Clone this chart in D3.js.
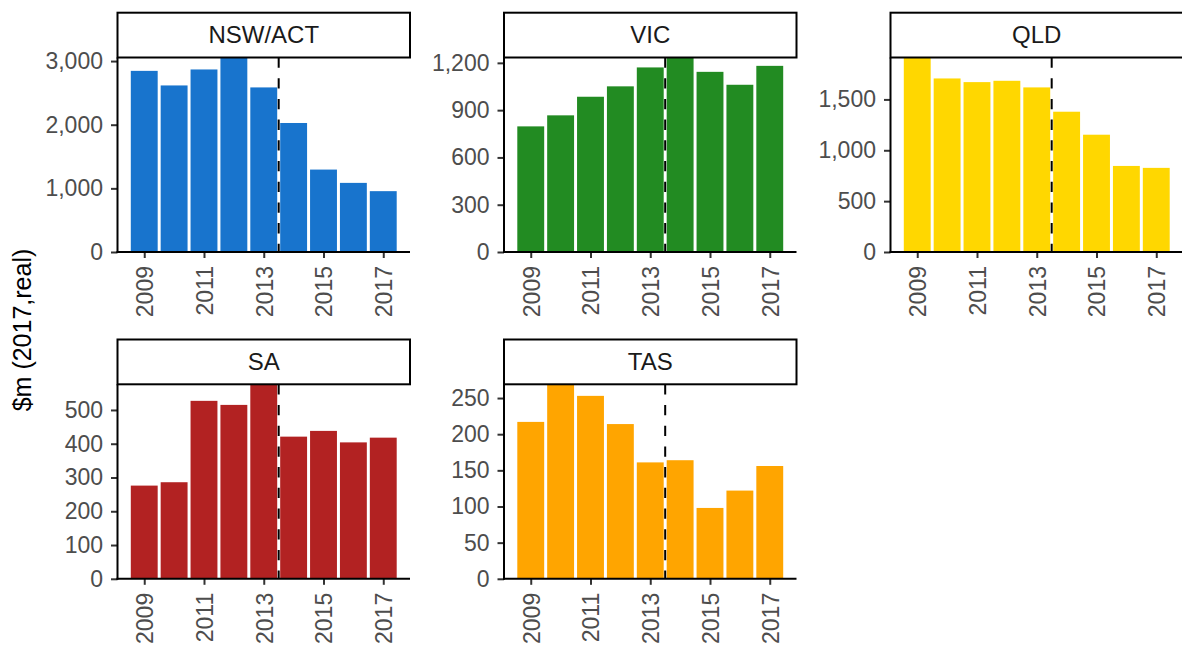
<!DOCTYPE html>
<html>
<head>
<meta charset="utf-8">
<script src="https://cdn.jsdelivr.net/npm/d3@7"></script>
<style>
  html, body { margin: 0; padding: 0; background: #ffffff; }
  svg { display: block; font-family: "Liberation Sans", Arial, sans-serif; }
</style>
</head>
<body>
<svg id="chart" width="1182" height="651"></svg>
<script>
// Annual spend by network region, $m in 2017 real terms
const years = [2009, 2010, 2011, 2012, 2013, 2014, 2015, 2016, 2017];
const regions = ["NSW/ACT", "VIC", "QLD", "SA", "TAS"];

const nswAct = [2846, 2617, 2868, 3056, 2586, 2027, 1295, 1086, 956];
const vic    = [797, 867, 985, 1051, 1171, 1234, 1143, 1061, 1181];
const qld    = [1912, 1706, 1670, 1683, 1618, 1379, 1153, 846, 827];
const sa     = [276, 286, 527, 515, 576, 421, 438, 404, 418];
const tas    = [217, 269, 253, 214, 161, 164, 98, 122, 156];

const regionColours = ["#1874CD", "#228B22", "#FFD700", "#B22222", "#FFA500"];

const yTicksNsw = [0, 1000, 2000, 3000];
const yTicksVic = [0, 300, 600, 900, 1200];
const yTicksQld = [0, 500, 1000, 1500];
const yTicksSa  = [0, 100, 200, 300, 400, 500];
const yTicksTas = [0, 50, 100, 150, 200, 250];

const xTickYears = [2009, 2011, 2013, 2015, 2017];
const breakYear = 2013.5;
const yTitle = "$m (2017,real)";

const seriesByRegion = [nswAct, vic, qld, sa, tas];
const ticksByRegion = [yTicksNsw, yTicksVic, yTicksQld, yTicksSa, yTicksTas];

// Facet grid geometry
const colLefts = [117.5, 504, 890.5];
const rowTops = [12.7, 339.5];
const panelW = 292.5;
const stripH = 44.8;
const plotH = 194.5;
const barWidth = 0.9;

const svg = d3.select("#chart");
const fmt = d3.format(",");

regions.forEach((region, i) => {
  const values = seriesByRegion[i];
  const col = i % 3, row = Math.floor(i / 3);
  const left = colLefts[col];
  const stripTop = rowTops[row];
  const plotTop = stripTop + stripH;

  const g = svg.append("g").attr("transform", `translate(${left},${plotTop})`);

  // x: continuous years with 5% padding around the bar extent
  const lo = years[0] - barWidth / 2, hi = years[years.length - 1] + barWidth / 2;
  const pad = (hi - lo) * 0.05;
  const x = d3.scaleLinear().domain([lo - pad, hi + pad]).range([0, panelW]);
  const y = d3.scaleLinear().domain([0, d3.max(values)]).range([plotH, 0]);

  const clipId = "clip" + i;
  g.append("clipPath").attr("id", clipId)
    .append("rect").attr("x", 0).attr("y", 0).attr("width", panelW).attr("height", plotH);

  g.append("g").attr("clip-path", `url(#${clipId})`)
    .selectAll("rect")
    .data(years.map((yr, k) => ({ yr, v: values[k] })))
    .join("rect")
    .attr("x", d => x(d.yr - barWidth / 2))
    .attr("width", d => x(d.yr + barWidth / 2) - x(d.yr - barWidth / 2))
    .attr("y", d => y(d.v))
    .attr("height", d => plotH - y(d.v))
    .attr("fill", regionColours[i]);

  // dashed marker between 2013 and 2014
  g.append("line")
    .attr("x1", x(breakYear)).attr("x2", x(breakYear))
    .attr("y1", 0).attr("y2", plotH)
    .attr("stroke", "#000").attr("stroke-width", 2)
    .attr("stroke-dasharray", "10.3,10.4");

  // y axis
  const ya = g.append("g").call(
    d3.axisLeft(y).tickValues(ticksByRegion[i]).tickFormat(fmt)
      .tickSize(6.5).tickSizeOuter(0).tickPadding(8)
  );
  ya.select(".domain").remove();
  ya.selectAll(".tick line").attr("stroke", "#333333").attr("stroke-width", 2);
  ya.selectAll(".tick text").attr("fill", "#4D4D4D").attr("font-size", 23)
    .attr("font-family", "Liberation Sans, Arial, sans-serif");

  // x axis
  const xa = g.append("g").attr("transform", `translate(0,${plotH})`).call(
    d3.axisBottom(x).tickValues(xTickYears).tickFormat(d3.format("d"))
      .tickSize(6).tickSizeOuter(0)
  );
  xa.select(".domain").remove();
  xa.selectAll(".tick line").attr("stroke", "#333333").attr("stroke-width", 2);
  xa.selectAll(".tick text")
    .attr("fill", "#4D4D4D").attr("font-size", 23)
    .attr("font-family", "Liberation Sans, Arial, sans-serif")
    .attr("transform", "rotate(-90)")
    .attr("x", -14).attr("y", 0).attr("dy", "0.36em")
    .attr("text-anchor", "end");

  // axis lines
  g.append("line").attr("x1", 0).attr("x2", 0).attr("y1", 0).attr("y2", plotH + 1)
    .attr("stroke", "#000").attr("stroke-width", 2);
  g.append("line").attr("x1", -1).attr("x2", panelW).attr("y1", plotH).attr("y2", plotH)
    .attr("stroke", "#000").attr("stroke-width", 2);

  // facet strip
  const s = svg.append("g").attr("transform", `translate(${left},${stripTop})`);
  s.append("rect").attr("x", 0).attr("y", 0).attr("width", panelW).attr("height", stripH)
    .attr("fill", "#fff").attr("stroke", "#000").attr("stroke-width", 2);
  s.append("text").attr("x", panelW / 2).attr("y", stripH / 2)
    .attr("dy", "0.35em").attr("text-anchor", "middle")
    .attr("font-size", 24).attr("fill", "#1A1A1A").text(region);
});

// shared y-axis title
svg.append("text")
  .attr("transform", "translate(22,330) rotate(-90)")
  .attr("text-anchor", "middle").attr("dy", "0.35em")
  .attr("font-size", 25).attr("fill", "#000")
  .text(yTitle);
</script>
</body>
</html>
